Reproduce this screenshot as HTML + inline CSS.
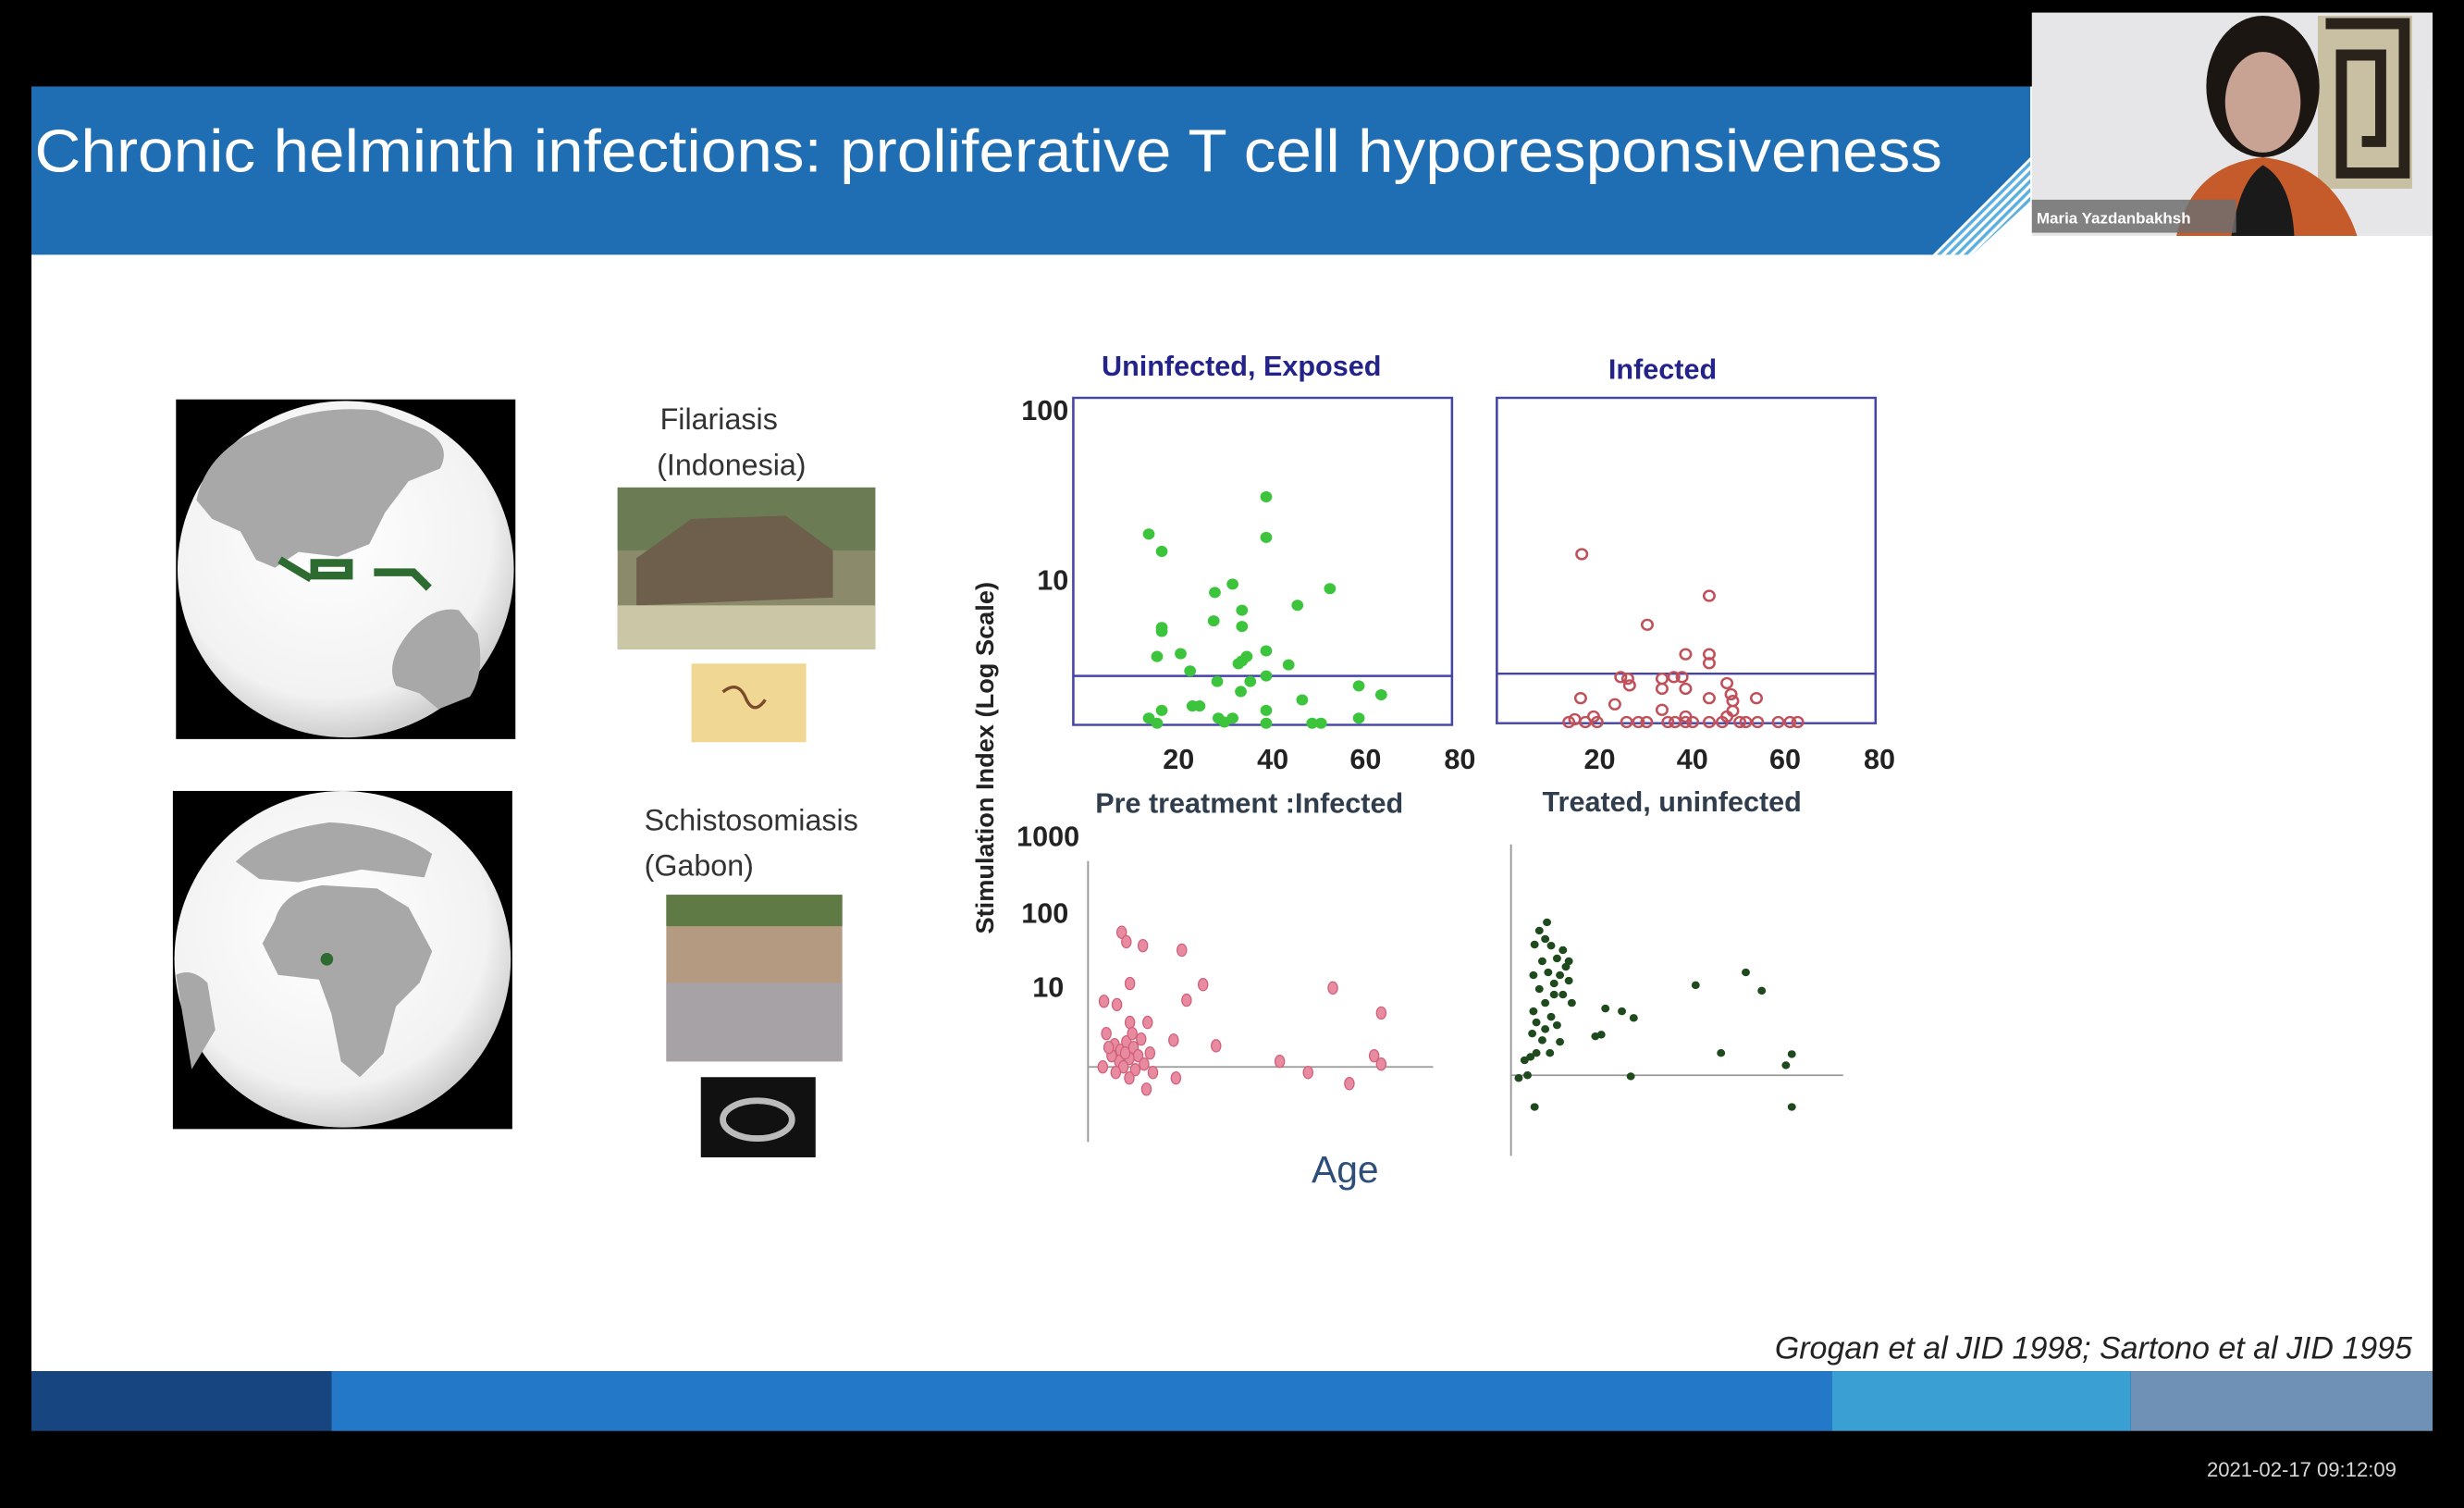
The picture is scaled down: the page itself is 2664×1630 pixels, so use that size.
<!DOCTYPE html>
<html><head><meta charset="utf-8"><style>
html,body{margin:0;padding:0;background:#000;}
svg{display:block;}
text{font-family:"Liberation Sans",sans-serif;}
</style></head><body>
<svg width="2664" height="1630" viewBox="0 0 1568 959" preserveAspectRatio="none" xmlns="http://www.w3.org/2000/svg">
<defs>
<pattern id="st" width="4" height="4" patternUnits="userSpaceOnUse" patternTransform="rotate(45)">
<rect width="4" height="4" fill="#5cb0e0"/><rect width="2" height="4" fill="#ffffff"/></pattern>
<radialGradient id="gl" cx="45%" cy="40%" r="60%"><stop offset="0" stop-color="#ffffff"/><stop offset="0.8" stop-color="#f2f2f2"/><stop offset="1" stop-color="#cfcfcf"/></radialGradient>
</defs>
<rect width="1568" height="959" fill="#000"/>
<!-- slide -->
<rect x="20" y="55" width="1528" height="817" fill="#fff"/>
<!-- title bar -->
<polygon points="20,55 1292,55 1292,100 1230,162 20,162" fill="#1f6db3"/>
<polygon points="1292,100 1292,128 1255,162 1230,162" fill="url(#st)"/>
<text x="22" y="109" font-size="38" fill="#fff" textLength="1214" lengthAdjust="spacingAndGlyphs">Chronic helminth infections: proliferative T cell hyporesponsiveness</text>
<!-- webcam -->
<rect x="1293" y="8" width="255" height="142" fill="#e6e6e8"/>
<rect x="1475" y="10" width="60" height="110" fill="#c9bfa3"/>
<path d="M1480,15 h50 v95 h-40 v-75 h25 v55 h-12" fill="none" stroke="#2a231c" stroke-width="7"/>
<ellipse cx="1440" cy="55" rx="36" ry="45" fill="#1c1612"/>
<ellipse cx="1440" cy="65" rx="24" ry="32" fill="#c8a293"/>
<path d="M1385,150 q10,-45 55,-50 q45,5 60,50 z" fill="#c55a2a"/>
<path d="M1420,150 q5,-35 20,-45 q18,10 20,45 z" fill="#1a1a1a"/>
<rect x="1293" y="127" width="130" height="21" fill="#6e6e6e" opacity="0.85"/>
<text x="1296" y="142" font-size="10" font-weight="bold" fill="#fff">Maria Yazdanbakhsh</text>
<!-- footer -->
<rect x="20" y="872" width="191" height="38" fill="#17457f"/>
<rect x="211" y="872" width="955" height="38" fill="#2478c8"/>
<rect x="1166" y="872" width="190" height="38" fill="#3a9fd2"/>
<rect x="1356" y="872" width="192" height="38" fill="#7091b6"/>
<text x="1525" y="939" font-size="13" fill="#d8d8d8" text-anchor="end">2021-02-17  09:12:09</text>
<text x="1535" y="864" font-size="20" font-style="italic" fill="#222" text-anchor="end">Grogan et al JID 1998; Sartono et al JID 1995</text>
<!-- globe 1 -->
<rect x="112" y="254" width="216" height="216" fill="#000"/>
<circle cx="220" cy="362" r="107" fill="url(#gl)"/>
<path d="M125,318 q5,-25 30,-40 l30,-12 q25,-8 55,-5 l30,12 q18,10 10,25 l-20,8 -15,20 -10,20 -20,8 -25,-3 -15,10 -12,-5 -10,-18 -18,-8z" fill="#a8a8a8"/>
<path d="M262,400 q15,-15 30,-12 l12,15 q5,25 -5,40 l-20,8 -12,-10 -15,-5 q-8,-15 10,-36z" fill="#a8a8a8"/>
<path d="M178,356 l20,12 M200,358 h22 v8 h-22z M238,364 h25 l10,10" stroke="#2e6b30" stroke-width="5" fill="none"/>
<!-- globe 2 -->
<rect x="110" y="503" width="216" height="215" fill="#000"/>
<circle cx="218" cy="610" r="107" fill="url(#gl)"/>
<path d="M150,548 q20,-20 60,-25 q40,2 65,20 l-5,15 -40,-5 -40,8 -25,-2z" fill="#a8a8a8"/>
<path d="M175,585 q5,-18 30,-22 l35,2 20,12 15,28 -8,20 -15,15 -8,30 -15,15 -12,-10 -6,-30 -8,-22 -26,-3 -10,-20z" fill="#a8a8a8"/>
<path d="M112,620 q10,-5 20,5 l5,30 -15,25z" fill="#a8a8a8"/>
<circle cx="208" cy="610" r="4" fill="#2e6b30"/>
<!-- labels & photos -->
<text x="420" y="273" font-size="19" fill="#333">Filariasis</text>
<text x="418" y="302" font-size="19" fill="#333">(Indonesia)</text>
<rect x="393" y="310" width="164" height="103" fill="#8b8a6a"/>
<rect x="393" y="310" width="164" height="40" fill="#6b7c55"/>
<polygon points="405,355 440,330 500,328 530,350 530,380 405,385" fill="#6e5f4c"/>
<rect x="393" y="385" width="164" height="28" fill="#cbc6a6"/>
<rect x="440" y="422" width="73" height="50" fill="#f0d894"/>
<path d="M460,440 q10,-8 15,5 q5,10 12,0" stroke="#7a4a2a" stroke-width="2" fill="none"/>
<text x="410" y="528" font-size="19" fill="#333">Schistosomiasis</text>
<text x="410" y="557" font-size="19" fill="#333">(Gabon)</text>
<rect x="424" y="569" width="112" height="106" fill="#b39a80"/>
<rect x="424" y="569" width="112" height="20" fill="#5f7a45"/>
<rect x="424" y="625" width="112" height="50" fill="#a7a2a6"/>
<rect x="446" y="685" width="73" height="51" fill="#111"/>
<ellipse cx="482" cy="712" rx="22" ry="12" fill="none" stroke="#bbb" stroke-width="4"/>
<!-- chart texts -->
<text x="790" y="239" font-size="18" font-weight="bold" fill="#23238a" text-anchor="middle">Uninfected, Exposed</text>
<text x="1058" y="241" font-size="18" font-weight="bold" fill="#23238a" text-anchor="middle">Infected</text>
<text x="795" y="517" font-size="18" font-weight="bold" fill="#2f3d4c" text-anchor="middle">Pre treatment :Infected</text>
<text x="1064" y="516" font-size="18" font-weight="bold" fill="#2f3d4c" text-anchor="middle">Treated, uninfected</text>
<text transform="translate(632,482) rotate(-90)" font-size="16" font-weight="bold" fill="#222" text-anchor="middle">Stimulation Index (Log Scale)</text>
<g font-size="18" font-weight="bold" fill="#222" text-anchor="end">
<text x="680" y="267">100</text><text x="680" y="375">10</text>
<text x="687" y="538">1000</text><text x="680" y="587">100</text><text x="677" y="634">10</text>
</g>
<g font-size="18" font-weight="bold" fill="#222" text-anchor="middle">
<text x="750" y="489">20</text><text x="810" y="489">40</text><text x="869" y="489">60</text><text x="929" y="489">80</text>
<text x="1018" y="489">20</text><text x="1077" y="489">40</text><text x="1136" y="489">60</text><text x="1196" y="489">80</text>
</g>
<text x="856" y="752" font-size="24" fill="#2d4e7a" text-anchor="middle">Age</text>
<!-- plots in zoom coords -->
<g transform="translate(683,253) scale(0.3754,0.3537) translate(-190,-127)">
<rect x="190" y="127" width="642" height="588" fill="none" stroke="#4444aa" stroke-width="4"/>
<line x1="190" y1="627" x2="832" y2="627" stroke="#4444aa" stroke-width="4"/>
<rect x="908" y="127" width="642" height="585" fill="none" stroke="#4444aa" stroke-width="4"/>
<line x1="908" y1="623" x2="1550" y2="623" stroke="#4444aa" stroke-width="4"/>
<g fill="#3cc43c">
<circle cx="318" cy="372" r="10"/><circle cx="340" cy="403" r="10"/><circle cx="517" cy="305" r="10"/><circle cx="517" cy="378" r="10"/><circle cx="430" cy="477" r="10"/><circle cx="460" cy="462" r="10"/><circle cx="625" cy="470" r="10"/><circle cx="570" cy="500" r="10"/><circle cx="340" cy="540" r="10"/><circle cx="340" cy="547" r="10"/><circle cx="428" cy="528" r="10"/><circle cx="476" cy="509" r="10"/><circle cx="476" cy="538" r="10"/><circle cx="332" cy="592" r="10"/><circle cx="372" cy="587" r="10"/><circle cx="388" cy="618" r="10"/><circle cx="470" cy="605" r="10"/><circle cx="476" cy="600" r="10"/><circle cx="484" cy="592" r="10"/><circle cx="517" cy="582" r="10"/><circle cx="555" cy="607" r="10"/><circle cx="517" cy="627" r="10"/><circle cx="490" cy="637" r="10"/><circle cx="434" cy="637" r="10"/><circle cx="474" cy="655" r="10"/><circle cx="392" cy="681" r="10"/><circle cx="404" cy="681" r="10"/><circle cx="578" cy="670" r="10"/><circle cx="674" cy="645" r="10"/><circle cx="712" cy="661" r="10"/><circle cx="340" cy="689" r="10"/><circle cx="318" cy="703" r="10"/><circle cx="332" cy="712" r="10"/><circle cx="436" cy="703" r="10"/><circle cx="446" cy="710" r="10"/><circle cx="460" cy="703" r="10"/><circle cx="517" cy="689" r="10"/><circle cx="517" cy="712" r="10"/><circle cx="595" cy="712" r="10"/><circle cx="610" cy="712" r="10"/><circle cx="674" cy="703" r="10"/>
</g>
<g fill="none" stroke="#c0505a" stroke-width="4">
<circle cx="1052" cy="408" r="9"/><circle cx="1268" cy="483" r="9"/><circle cx="1163" cy="535" r="9"/><circle cx="1228" cy="588" r="9"/><circle cx="1268" cy="588" r="9"/><circle cx="1268" cy="604" r="9"/><circle cx="1118" cy="629" r="9"/><circle cx="1130" cy="632" r="9"/><circle cx="1133" cy="644" r="9"/><circle cx="1188" cy="632" r="9"/><circle cx="1188" cy="650" r="9"/><circle cx="1208" cy="629" r="9"/><circle cx="1222" cy="629" r="9"/><circle cx="1228" cy="650" r="9"/><circle cx="1298" cy="640" r="9"/><circle cx="1305" cy="660" r="9"/><circle cx="1308" cy="672" r="9"/><circle cx="1348" cy="667" r="9"/><circle cx="1268" cy="667" r="9"/><circle cx="1050" cy="667" r="9"/><circle cx="1108" cy="678" r="9"/><circle cx="1188" cy="688" r="9"/><circle cx="1228" cy="700" r="9"/><circle cx="1298" cy="700" r="9"/><circle cx="1308" cy="690" r="9"/><circle cx="1030" cy="710" r="9"/><circle cx="1040" cy="705" r="9"/><circle cx="1058" cy="710" r="9"/><circle cx="1072" cy="700" r="9"/><circle cx="1078" cy="710" r="9"/><circle cx="1128" cy="710" r="9"/><circle cx="1148" cy="710" r="9"/><circle cx="1162" cy="710" r="9"/><circle cx="1198" cy="710" r="9"/><circle cx="1210" cy="710" r="9"/><circle cx="1228" cy="710" r="9"/><circle cx="1240" cy="710" r="9"/><circle cx="1268" cy="710" r="9"/><circle cx="1290" cy="710" r="9"/><circle cx="1320" cy="710" r="9"/><circle cx="1330" cy="710" r="9"/><circle cx="1350" cy="710" r="9"/><circle cx="1385" cy="710" r="9"/><circle cx="1405" cy="710" r="9"/><circle cx="1418" cy="710" r="9"/>
</g>
<!-- bottom-left -->
<line x1="215" y1="960" x2="215" y2="1465" stroke="#999" stroke-width="3"/>
<line x1="215" y1="1330" x2="800" y2="1330" stroke="#999" stroke-width="3"/>
<g fill="#e88aa0" stroke="#d0607a" stroke-width="2">
<ellipse cx="272" cy="1088" rx="8" ry="11"/><ellipse cx="280" cy="1105" rx="8" ry="11"/><ellipse cx="308" cy="1112" rx="8" ry="11"/><ellipse cx="374" cy="1120" rx="8" ry="11"/><ellipse cx="286" cy="1180" rx="8" ry="11"/><ellipse cx="410" cy="1182" rx="8" ry="11"/><ellipse cx="630" cy="1188" rx="8" ry="11"/><ellipse cx="242" cy="1212" rx="8" ry="11"/><ellipse cx="264" cy="1218" rx="8" ry="11"/><ellipse cx="382" cy="1210" rx="8" ry="11"/><ellipse cx="712" cy="1233" rx="8" ry="11"/><ellipse cx="286" cy="1250" rx="8" ry="11"/><ellipse cx="316" cy="1250" rx="8" ry="11"/><ellipse cx="246" cy="1270" rx="8" ry="11"/><ellipse cx="360" cy="1282" rx="8" ry="11"/><ellipse cx="432" cy="1292" rx="8" ry="11"/><ellipse cx="540" cy="1320" rx="8" ry="11"/><ellipse cx="700" cy="1310" rx="8" ry="11"/><ellipse cx="712" cy="1325" rx="8" ry="11"/><ellipse cx="588" cy="1340" rx="8" ry="11"/><ellipse cx="658" cy="1360" rx="8" ry="11"/><ellipse cx="364" cy="1350" rx="8" ry="11"/><ellipse cx="314" cy="1370" rx="8" ry="11"/>
<ellipse cx="260" cy="1290" rx="8" ry="11"/><ellipse cx="270" cy="1300" rx="8" ry="11"/><ellipse cx="280" cy="1285" rx="8" ry="11"/><ellipse cx="292" cy="1295" rx="8" ry="11"/><ellipse cx="300" cy="1310" rx="8" ry="11"/><ellipse cx="285" cy="1315" rx="8" ry="11"/><ellipse cx="268" cy="1320" rx="8" ry="11"/><ellipse cx="255" cy="1310" rx="8" ry="11"/><ellipse cx="275" cy="1330" rx="8" ry="11"/><ellipse cx="295" cy="1335" rx="8" ry="11"/><ellipse cx="310" cy="1325" rx="8" ry="11"/><ellipse cx="320" cy="1305" rx="8" ry="11"/><ellipse cx="305" cy="1280" rx="8" ry="11"/><ellipse cx="290" cy="1270" rx="8" ry="11"/><ellipse cx="262" cy="1340" rx="8" ry="11"/><ellipse cx="285" cy="1350" rx="8" ry="11"/><ellipse cx="240" cy="1330" rx="8" ry="11"/><ellipse cx="325" cy="1340" rx="8" ry="11"/><ellipse cx="250" cy="1295" rx="8" ry="11"/><ellipse cx="278" cy="1305" rx="8" ry="11"/>
</g>
<!-- bottom-right -->
<line x1="932" y1="930" x2="932" y2="1490" stroke="#999" stroke-width="3"/>
<line x1="932" y1="1345" x2="1495" y2="1345" stroke="#999" stroke-width="3"/>
<g fill="#1e4a1e">
<circle cx="1092" cy="1225" r="7"/><circle cx="1120" cy="1230" r="7"/><circle cx="1140" cy="1242" r="7"/><circle cx="1075" cy="1275" r="7"/><circle cx="1085" cy="1272" r="7"/><circle cx="1245" cy="1183" r="7"/><circle cx="1330" cy="1160" r="7"/><circle cx="1357" cy="1193" r="7"/><circle cx="1288" cy="1305" r="7"/><circle cx="1408" cy="1307" r="7"/><circle cx="1398" cy="1327" r="7"/><circle cx="1135" cy="1347" r="7"/><circle cx="972" cy="1402" r="7"/><circle cx="1408" cy="1402" r="7"/><circle cx="945" cy="1350" r="7"/><circle cx="960" cy="1345" r="7"/><circle cx="955" cy="1318" r="7"/><circle cx="965" cy="1312" r="7"/>
<circle cx="993" cy="1070" r="7"/><circle cx="980" cy="1085" r="7"/><circle cx="990" cy="1100" r="7"/><circle cx="972" cy="1110" r="7"/><circle cx="1000" cy="1112" r="7"/><circle cx="1020" cy="1120" r="7"/><circle cx="1030" cy="1140" r="7"/><circle cx="1010" cy="1135" r="7"/><circle cx="985" cy="1140" r="7"/><circle cx="970" cy="1165" r="7"/><circle cx="995" cy="1160" r="7"/><circle cx="1015" cy="1165" r="7"/><circle cx="1030" cy="1175" r="7"/><circle cx="1005" cy="1180" r="7"/><circle cx="980" cy="1190" r="7"/><circle cx="1020" cy="1200" r="7"/><circle cx="1035" cy="1215" r="7"/><circle cx="990" cy="1215" r="7"/><circle cx="970" cy="1230" r="7"/><circle cx="1000" cy="1240" r="7"/><circle cx="975" cy="1250" r="7"/><circle cx="990" cy="1262" r="7"/><circle cx="1010" cy="1255" r="7"/><circle cx="968" cy="1270" r="7"/><circle cx="985" cy="1282" r="7"/><circle cx="1015" cy="1285" r="7"/><circle cx="998" cy="1305" r="7"/><circle cx="975" cy="1305" r="7"/><circle cx="1005" cy="1200" r="7"/><circle cx="1025" cy="1150" r="7"/>
</g>
</g>
</svg>
</body></html>
